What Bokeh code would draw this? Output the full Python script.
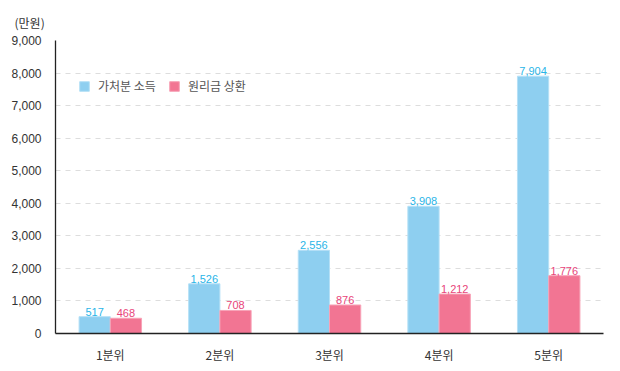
from bokeh.plotting import figure
from bokeh.models import ColumnDataSource, FactorRange, Range1d, FixedTicker, Legend, LegendItem, LabelSet, NumeralTickFormatter
from bokeh.core.properties import value
from bokeh.transform import dodge
from bokeh.embed import file_html
from bokeh.resources import INLINE

categories = ["1분위", "2분위", "3분위", "4분위", "5분위"]
disposable = [517, 1526, 2556, 3908, 7904]
repayment = [468, 708, 876, 1212, 1776]
series_names = ["가처분 소득", "원리금 상환"]
y_ticks = [0, 1000, 2000, 3000, 4000, 5000, 6000, 7000, 8000, 9000]
unit_label = "(만원)"

NUMFONT = "Liberation Sans"
KFONT = "Noto Sans CJK KR"
BLUE = "#8ecff0"
PINK = "#f27593"

src = ColumnDataSource(dict(
    cat=categories,
    a=disposable,
    b=repayment,
    a_txt=[f"{v:,}" for v in disposable],
    b_txt=[f"{v:,}" for v in repayment],
))

p = figure(frame_width=548, frame_height=293, x_range=FactorRange(*categories), y_range=Range1d(0, 9000),
           output_backend="svg", toolbar_location=None,
           min_border_left=55, min_border_right=12, min_border_top=40, min_border_bottom=30,
           title=unit_label)
p.outline_line_color = None
p.background_fill_color = "white"

p.title.align = "left"
p.title.offset = -41
p.title.standoff = 20
p.title.text_font = KFONT
p.title.text_font_size = "12px"
p.title.text_font_style = "normal"
p.title.text_color = "#333333"

w = 0.285
ra = p.vbar(x=dodge("cat", -w / 2, range=p.x_range), top="a", width=w, source=src,
            fill_color=BLUE, line_color="#b5e0f6", line_width=1)
rb = p.vbar(x=dodge("cat", w / 2, range=p.x_range), top="b", width=w, source=src,
            fill_color=PINK, line_color="#f7a3b7", line_width=1)

la = LabelSet(x=dodge("cat", -w / 2, range=p.x_range), y="a", text="a_txt", source=src,
              text_align="center", text_baseline="bottom", y_offset=1,
              text_font=value(NUMFONT), text_font_size=value("11px"), text_color=value("#29b5e8"))
lb = LabelSet(x=dodge("cat", w / 2, range=p.x_range), y="b", text="b_txt", source=src,
              text_align="center", text_baseline="bottom", y_offset=1,
              text_font=value(NUMFONT), text_font_size=value("11px"), text_color=value("#e8457a"))
p.add_layout(la)
p.add_layout(lb)

# axes
p.yaxis.ticker = FixedTicker(ticks=y_ticks)
p.yaxis.formatter = NumeralTickFormatter(format="0,0")
p.yaxis.major_tick_line_color = None
p.yaxis.minor_tick_line_color = None
p.yaxis.major_label_standoff = 8
p.yaxis.major_label_text_font = NUMFONT
p.yaxis.major_label_text_font_size = "12px"
p.yaxis.major_label_text_color = "#333333"
p.yaxis.axis_line_color = "#222222"
p.yaxis.axis_line_width = 1.3

p.xaxis.major_tick_line_color = None
p.xaxis.minor_tick_line_color = None
p.xaxis.major_label_standoff = 6
p.xaxis.major_label_text_font = KFONT
p.xaxis.major_label_text_font_size = "12px"
p.xaxis.major_label_text_color = "#333333"
p.xaxis.axis_line_color = "#222222"
p.xaxis.axis_line_width = 1.5

p.xgrid.grid_line_color = None
p.ygrid.ticker = FixedTicker(ticks=y_ticks[1:-1])
p.ygrid.grid_line_color = "#dddddd"
p.ygrid.grid_line_dash = "5 5"
p.ygrid.grid_line_width = 1

legend = Legend(items=[LegendItem(label=series_names[0], renderers=[ra]),
                       LegendItem(label=series_names[1], renderers=[rb])],
                orientation="horizontal", location=(23, 239),
                label_text_font=KFONT, label_text_font_size="12px", label_text_color="#555555",
                glyph_width=12, glyph_height=12, label_standoff=8, spacing=12,
                padding=0, margin=0, border_line_color=None, background_fill_alpha=0)
p.add_layout(legend, "center")

open("out.html", "w").write(file_html(p, INLINE))
